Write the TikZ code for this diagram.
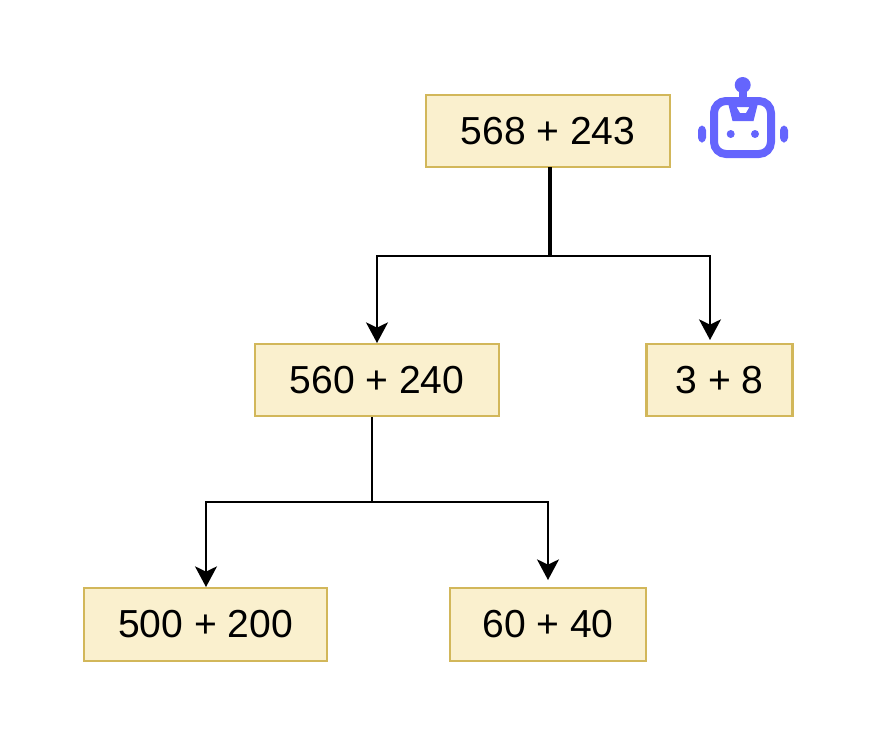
\documentclass[tikz,border=0pt]{standalone}
\usepackage{fontspec}
\setmainfont{Liberation Sans}
\usepackage{xcolor}
\usetikzlibrary{arrows.meta}
\definecolor{boxfill}{HTML}{FAF0CE}
\definecolor{boxline}{HTML}{D2B75A}
\definecolor{botblue}{HTML}{6565FD}
\tikzset{
    sumbox/.style={draw=boxline, fill=boxfill, line width=1.7pt, minimum height=54.5pt, inner sep=0pt, outer sep=0pt, font=\fontsize{29.3}{35}\selectfont},
    link/.style={line width=1.5pt, -{Stealth[length=15.5pt,width=16.5pt,inset=4pt]}},
}
\begin{document}
\begin{tikzpicture}[x=0.75pt,y=-0.75pt]
\useasboundingbox (0,0) rectangle (875,733);

% =========================================================
% Kaesten
% =========================================================
\node[sumbox, minimum width=182.5pt] (root) at (548,131) {568 + 243};
\node[sumbox, minimum width=182.5pt] (left) at (377,380) {560 + 240};
\node[sumbox, minimum width=109.5pt] (right) at (719.5,380) {3 + 8};
\node[sumbox, minimum width=182.5pt] (leftleft) at (205.5,624.5) {500 + 200};
\node[sumbox, minimum width=146.5pt] (leftright) at (548,624.5) {60 + 40};

% =========================================================
% Pfeile
% =========================================================
\coordinate (rootA) at (549,167);
\coordinate (rootB) at (551,167);
\coordinate (leftTip) at (377,343);
\coordinate (rightTip) at (710,340);
\coordinate (midStem) at (372,417);
\coordinate (llTip) at (206,587);
\coordinate (lrTip) at (548,580);

\draw[link] (rootA) -- (rootA |- 0,256) -| (leftTip);
\draw[link] (rootB) -- (rootB |- 0,256) -| (rightTip);
\draw[link] (midStem) -- (midStem |- 0,502) -| (llTip);
\draw[link] (midStem) -- (midStem |- 0,502) -| (lrTip);

% =========================================================
% Roboter
% =========================================================
\begin{scope}[botblue]
% Kopf
\draw[line width=6pt, rounded corners=9pt] (714,101) rectangle (771,154);
% Antenne
\fill (742.7,85) circle (8);
\fill (739,88) rectangle (746.5,100);
% Kragen
\fill[even odd rule] (728,103) -- (758,103) -- (753.5,121) -- (732.5,121) -- cycle
    (736.5,107) -- (749.5,107) -- (746,113) -- (740,113) -- cycle;
% Augen
\fill (730.7,134) circle (4);
\fill (755,134) circle (4);
% Ohren
\fill[rounded corners=3.5pt] (698,125.5) rectangle (706,142.5);
\fill[rounded corners=3.5pt] (780,125.5) rectangle (788,142.5);
\end{scope}

\end{tikzpicture}
\end{document}
